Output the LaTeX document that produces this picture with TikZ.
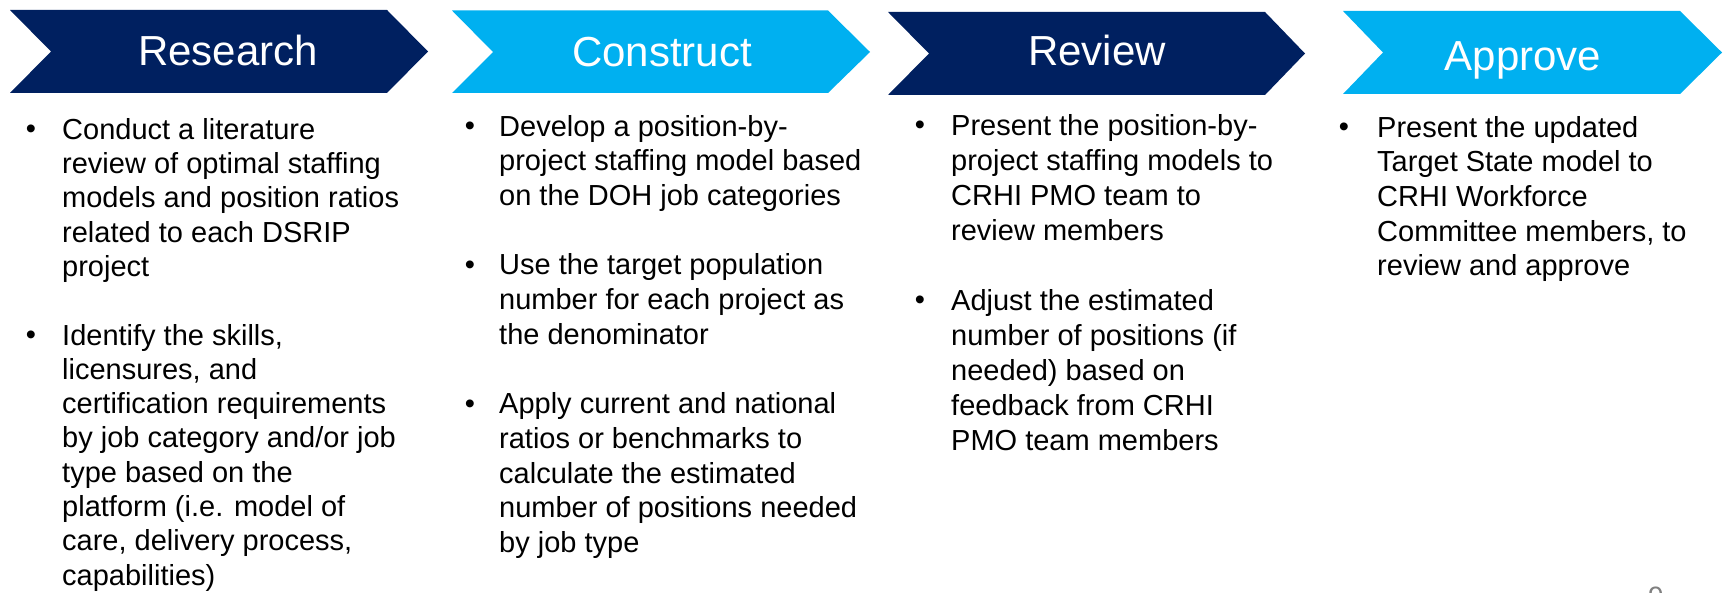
\documentclass[tikz,border=0pt]{standalone}
\usepackage{fontspec}
\setmainfont{Liberation Sans}
\definecolor{navy}{RGB}{0,32,96}
\definecolor{sky}{RGB}{0,176,240}
\definecolor{pagegray}{RGB}{128,128,128}
% strut fixing the top of every paragraph 25pt above its first baseline
\newcommand{\parstrut}{\rule{0pt}{25pt}}
\begin{document}
\begin{tikzpicture}[x=1pt,y=-1pt,
  heading/.style={anchor=base,inner sep=0pt,text=white,font=\fontsize{42}{48}\selectfont},
  bodytext/.style={anchor=north west,inner sep=0pt,align=left,text=black,font=\fontsize{29}{34.7}\selectfont},
  bodytight/.style={bodytext,font=\fontsize{29}{34.3}\selectfont},
  bodyloose/.style={bodytext,font=\fontsize{29}{35}\selectfont},
  bulletdot/.style={anchor=base,inner sep=0pt,text=black,font=\fontsize{29}{34.7}\selectfont}]
\useasboundingbox (0,0) rectangle (1723,593);
\fill[white] (0,0) rectangle (1723,593);

% chevrons
\fill[navy] (10,10) -- (387,10) -- (428,51.5) -- (387,93) -- (10,93) -- (51,51.5) -- cycle;
\fill[sky]  (452,10.5) -- (828,10.5) -- (870,52) -- (828,93) -- (452,93) -- (493,52) -- cycle;
\fill[navy] (888,12) -- (1265,12) -- (1305,53.5) -- (1265,95) -- (888,95) -- (929,53.5) -- cycle;
\fill[sky]  (1343,11) -- (1680,11) -- (1722,52.5) -- (1680,94) -- (1343,94) -- (1383,52.5) -- cycle;

% headings
\node[heading] (hResearch)  at (228,65.5) {Research};
\node[heading] (hConstruct) at (662,66.5) {Construct};
\node[heading] (hReview)    at (1097,66)  {Review};
\node[heading] (hApprove)   at (1523,71)  {Approve};

% Research column
\node[bulletdot] (b11) at (31,139) {•};
\node[bodytight] (t11) at (62,114) {\parstrut Conduct a literature\\review of optimal staffing\\models and position ratios\\related to each DSRIP\\project};
\node[bulletdot] (b12) at (31,344.8) {•};
\node[bodytight] (t12) at (62,319.8) {\parstrut Identify the skills,\\licensures, and\\certification requirements\\by job category and/or job\\type based on the\\platform (i.e. model of\\care, delivery process,\\capabilities)};

% Construct column
\node[bulletdot] (b21) at (470,136) {•};
\node[bodytext] (t21) at (499,111) {\parstrut Develop a position-by-\\project staffing model based\\on the DOH job categories};
\node[bulletdot] (b22) at (470,274.8) {•};
\node[bodytext] (t22) at (499,249.8) {\parstrut Use the target population\\number for each project as\\the denominator};
\node[bulletdot] (b23) at (470,413.6) {•};
\node[bodytext] (t23) at (499,388.6) {\parstrut Apply current and national\\ratios or benchmarks to\\calculate the estimated\\number of positions needed\\by job type};

% Review column
\node[bulletdot] (b31) at (920,135) {•};
\node[bodyloose] (t31) at (951,110) {\parstrut Present the position-by-\\project staffing models to\\CRHI PMO team to\\review members};
\node[bulletdot] (b32) at (920,310) {•};
\node[bodyloose] (t32) at (951,285) {\parstrut Adjust the estimated\\number of positions (if\\needed) based on\\feedback from CRHI\\PMO team members};

% Approve column
\node[bulletdot] (b41) at (1344,137) {•};
\node[bodytext] (t41) at (1377,112) {\parstrut Present the updated\\Target State model to\\CRHI Workforce\\Committee members, to\\review and approve};

% page number at the lower edge
\node[anchor=base,inner sep=0pt,text=pagegray,font=\fontsize{28}{32}\selectfont] (pagenum) at (1656,606) {9};
\end{tikzpicture}
\end{document}
